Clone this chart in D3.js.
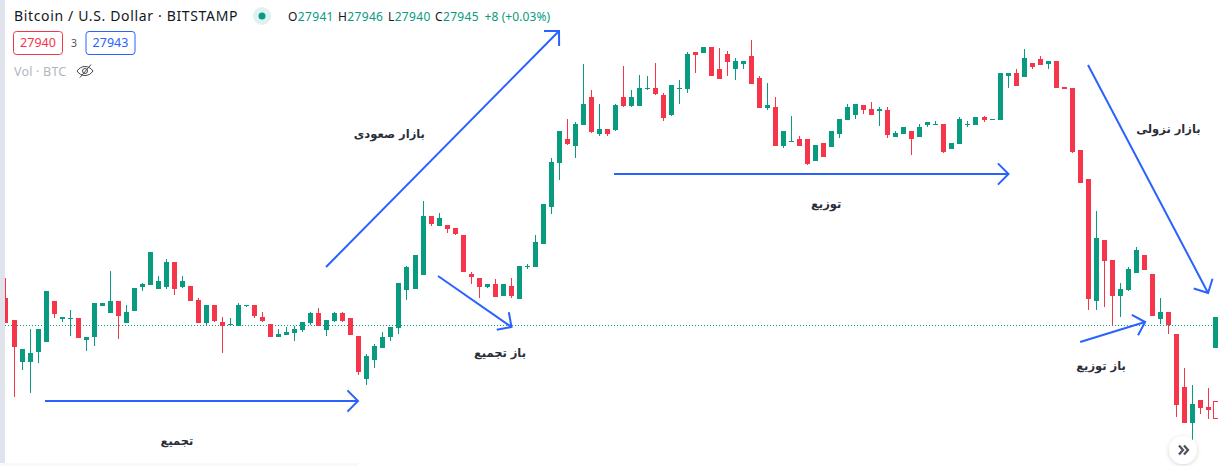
<!DOCTYPE html>
<html><head><meta charset="utf-8">
<script src="https://cdn.jsdelivr.net/npm/d3@7"></script>
<style>html,body{margin:0;padding:0;background:#fff;overflow:hidden}svg{display:block}</style>
</head><body><svg id="c" width="1218" height="466"></svg>
<script>
const opens=[27702,27680,27638,27638,27648,27658,27699,27681,27681,27682,27660,27663,27694,27687,27699,27677,27689,27713,27715,27711,27713,27738,27713,27714,27700,27677,27695,27678,27675,27674,27694,27695,27683,27676,27663,27665,27667,27670,27677,27687,27670,27679,27687,27682,27664,27621,27640,27652,27663,27672,27710,27711,27725,27784,27774,27775,27772,27765,27726,27722,27713,27716,27704,27714,27701,27733,27733,27756,27793,27837,27861,27854,27875,27903,27866,27871,27870,27903,27894,27894,27911,27912,27905,27885,27911,27911,27948,27947,27953,27931,27946,27931,27936,27944,27922,27892,27893,27854,27858,27861,27861,27839,27857,27853,27866,27880,27885,27895,27891,27889,27890,27863,27866,27869,27863,27875,27875,27876,27851,27856,27875,27875,27883,27880,27880,27924,27927,27923,27937,27941,27936,27939,27913,27912,27850,27821,27699,27760,27740,27704,27710,27727,27745,27726,27681,27688,27666,27613,27577,27600,27593,27652];
const highs=[27722,27680,27651,27671,27671,27709,27699,27683,27690,27682,27663,27697,27697,27729,27699,27695,27712,27717,27748,27724,27741,27738,27724,27714,27702,27695,27695,27683,27682,27697,27695,27695,27688,27676,27671,27673,27674,27678,27688,27692,27680,27688,27688,27682,27664,27646,27656,27668,27673,27717,27734,27745,27799,27784,27787,27775,27772,27765,27728,27722,27716,27721,27716,27722,27734,27736,27765,27796,27842,27869,27881,27878,27936,27910,27896,27871,27896,27934,27910,27925,27924,27937,27907,27915,27920,27948,27948,27953,27953,27952,27949,27942,27939,27960,27924,27917,27903,27869,27884,27864,27861,27855,27857,27869,27881,27896,27896,27895,27898,27893,27893,27869,27873,27869,27876,27878,27879,27876,27857,27883,27879,27883,27884,27881,27927,27927,27931,27951,27937,27944,27939,27939,27913,27912,27850,27821,27789,27760,27740,27717,27733,27753,27745,27726,27702,27688,27666,27632,27615,27600,27612,27683];
const lows=[27677,27603,27630,27607,27637,27658,27682,27678,27664,27662,27649,27654,27694,27687,27661,27677,27689,27709,27715,27711,27711,27705,27712,27699,27677,27674,27678,27647,27674,27674,27693,27682,27678,27663,27663,27665,27659,27668,27675,27674,27664,27678,27678,27665,27625,27615,27632,27652,27659,27666,27700,27711,27725,27774,27774,27767,27765,27728,27716,27702,27712,27703,27704,27702,27701,27731,27733,27756,27786,27820,27855,27842,27875,27867,27864,27864,27869,27893,27893,27894,27910,27905,27879,27884,27896,27907,27927,27947,27924,27921,27924,27920,27931,27916,27892,27890,27854,27852,27858,27854,27835,27839,27843,27853,27862,27880,27881,27886,27885,27874,27862,27863,27866,27845,27863,27873,27875,27847,27851,27856,27873,27875,27878,27880,27880,27912,27914,27923,27931,27935,27931,27912,27911,27847,27817,27690,27690,27693,27675,27683,27709,27727,27730,27684,27676,27666,27583,27577,27560,27586,27581,27652];
const closes=[27677,27653,27651,27647,27671,27709,27686,27683,27682,27662,27663,27697,27697,27699,27684,27688,27712,27716,27748,27719,27738,27711,27719,27699,27677,27695,27679,27674,27676,27695,27695,27684,27679,27663,27666,27668,27671,27678,27687,27674,27680,27687,27679,27665,27628,27644,27654,27663,27673,27717,27733,27745,27784,27776,27782,27771,27766,27728,27723,27713,27716,27703,27716,27704,27734,27734,27758,27796,27838,27869,27856,27876,27896,27868,27871,27866,27895,27894,27903,27912,27912,27906,27882,27915,27912,27946,27945,27953,27924,27921,27938,27939,27939,27916,27892,27895,27854,27869,27859,27854,27836,27855,27843,27869,27881,27893,27896,27890,27885,27891,27865,27867,27873,27861,27873,27878,27876,27848,27857,27881,27876,27883,27880,27881,27927,27927,27914,27942,27933,27935,27939,27912,27911,27848,27817,27701,27762,27739,27704,27711,27731,27750,27730,27684,27688,27675,27595,27577,27596,27592,27590,27683];
const lastPrice=27675;
const hollowCandle=[27599,27582];
const headerTitle="Bitcoin / U.S. Dollar · BITSTAMP";
const ohlcLabels=[["O","27941"],["H","27946"],["L","27940"],["C","27945"]];
const changeLabel="+8 (+0.03%)";
const bidAsk=["27940","3","27943"];
const volLabel="Vol · BTC";
const arrows=[
 [[4.83,27599],[43.89,27599]],
 [[39.9,27733],[68.97,27969]],
 [[53.87,27724],[63.04,27673]],
 [[75.83,27826],[125.06,27826]],
 [[134.98,27935],[149.96,27707]],
 [[134,27658],[142.1,27678]]
];
const labels=[
 ["بازار صعودی",47.8,27862],
 ["باز تجمیع",61.6,27643],
 ["تجمیع",21.3,27555],
 ["توزیع",102.3,27792],
 ["بازار نزولی",145.0,27867],
 ["باز توزیع",136.6,27630]
];
const GREEN="#089b80",RED="#f5364a",BLUE="#2962ff";

const svg=d3.select("#c");
const x=d3.scaleLinear().domain([0,1,150,151]).range([5.5,14.3,1208.4,1215.5]);
const y=d3.scaleLinear().domain([27534,28000]).range([466,0]);
const idx=d3.range(opens.length);
const col=i=>closes[i]>=opens[i]?GREEN:RED;
const bodyLeft=i=>Math.round(x(i)-2.5);

svg.append("line").attr("x1",5).attr("x2",1218).attr("y1",y(lastPrice)+.5).attr("y2",y(lastPrice)+.5)
  .attr("stroke",GREEN).attr("stroke-width",1).attr("stroke-dasharray","1 2");

const chart=svg.append("g");
chart.selectAll("rect.w").data(idx).join("rect").attr("class","w")
  .attr("x",i=>bodyLeft(i)+2).attr("width",1)
  .attr("y",i=>y(highs[i])).attr("height",i=>y(lows[i])-y(highs[i])).attr("fill",col);
chart.selectAll("rect.b").data(idx).join("rect").attr("class","b")
  .attr("x",bodyLeft).attr("width",5)
  .attr("y",i=>y(Math.max(opens[i],closes[i]))).attr("height",i=>Math.max(1,Math.abs(y(opens[i])-y(closes[i])))).attr("fill",col);
chart.append("rect").attr("x",bodyLeft(151)+.5).attr("width",6)
  .attr("y",y(hollowCandle[0])+.5).attr("height",y(hollowCandle[1])-y(hollowCandle[0]))
  .attr("fill","#fff").attr("stroke",RED);

const ag=svg.append("g").attr("fill","none").attr("stroke",BLUE).attr("stroke-width",2);
arrows.forEach(a=>{
  const [p,q]=a, x1=x(p[0]),y1=y(p[1]),x2=x(q[0]),y2=y(q[1]);
  const t=Math.atan2(y2-y1,x2-x1), L=15, w=Math.PI/4;
  ag.append("line").attr("x1",x1).attr("y1",y1).attr("x2",x2).attr("y2",y2);
  ag.append("path").attr("stroke-linejoin","miter").attr("d",`M${x2-L*Math.cos(t-w)},${y2-L*Math.sin(t-w)}L${x2},${y2}L${x2-L*Math.cos(t+w)},${y2-L*Math.sin(t+w)}`);
});

svg.append("g").selectAll("text").data(labels).join("text")
  .attr("x",d=>x(d[1])).attr("y",d=>y(d[2])).attr("text-anchor","middle").attr("direction","rtl")
  .attr("font-family","DejaVu Sans").attr("font-weight","bold").attr("font-size",11.5).attr("fill","#2a2e39")
  .text(d=>d[0]);

svg.append("rect").attr("x",0).attr("y",0).attr("width",5).attr("height",463).attr("fill","#e0e3eb");
svg.append("rect").attr("x",0).attr("y",463).attr("width",358).attr("height",3).attr("fill","#f8f9fd");

const F="'Noto Sans',sans-serif";
svg.append("text").attr("x",14).attr("y",21).attr("font-family",F).attr("font-size",14).attr("letter-spacing",.65).attr("fill","#131722").text(headerTitle);
svg.append("circle").attr("cx",262).attr("cy",16).attr("r",9).attr("fill",GREEN).attr("opacity",.13);
svg.append("circle").attr("cx",262).attr("cy",16).attr("r",3.5).attr("fill",GREEN);
const ohlcXs=[288,338,388,435];
ohlcLabels.forEach(([a,b],k)=>{
  const t=svg.append("text").attr("x",ohlcXs[k]).attr("y",21).attr("font-family",F).attr("font-size",12).attr("letter-spacing",.35);
  t.append("tspan").attr("fill","#131722").text(a);
  t.append("tspan").attr("fill",GREEN).text(b);
});
svg.append("text").attr("x",484.5).attr("y",21).attr("font-family",F).attr("font-size",12).attr("letter-spacing",.1).attr("fill",GREEN).text(changeLabel);
const box=(x0,w,c,t)=>{
  svg.append("rect").attr("x",x0+.5).attr("y",31.5).attr("width",w).attr("height",23).attr("rx",3).attr("fill","#fff").attr("stroke",c);
  svg.append("text").attr("x",x0+w/2+.5).attr("y",47).attr("text-anchor","middle").attr("font-family",F).attr("font-size",12.5).attr("fill",c).text(t);
};
box(13,49,RED,bidAsk[0]);
svg.append("text").attr("x",74).attr("y",47).attr("text-anchor","middle").attr("font-family",F).attr("font-size",10.5).attr("fill","#50535e").text(bidAsk[1]);
box(85.5,49,BLUE,bidAsk[2]);
svg.append("text").attr("x",14).attr("y",76).attr("font-family",F).attr("font-size",12.5).attr("letter-spacing",.2).attr("fill","#b2b5be").text(volLabel);
const eye=svg.append("g").attr("fill","none").attr("stroke","#434651").attr("stroke-width",1).attr("transform","translate(85,71)");
eye.append("path").attr("d","M-8,0C-4,-6 4,-6 8,0C4,6 -4,6 -8,0Z");
eye.append("circle").attr("r",2.5);
eye.append("line").attr("x1",-5).attr("y1",6.5).attr("x2",6).attr("y2",-6.5);

const defs=svg.append("defs");
const fl=defs.append("filter").attr("id","sh").attr("x","-50%").attr("y","-50%").attr("width","200%").attr("height","200%");
fl.append("feDropShadow").attr("dx",0).attr("dy",1).attr("stdDeviation",2).attr("flood-color","#000").attr("flood-opacity",.18);
svg.append("circle").attr("cx",1183).attr("cy",450).attr("r",14).attr("fill","#fff").attr("filter","url(#sh)");
svg.append("path").attr("d","M1179,445.5L1183,450L1179,454.5M1184,445.5L1188,450L1184,454.5").attr("fill","none").attr("stroke","#50535e").attr("stroke-width",2.3);
</script></body></html>
